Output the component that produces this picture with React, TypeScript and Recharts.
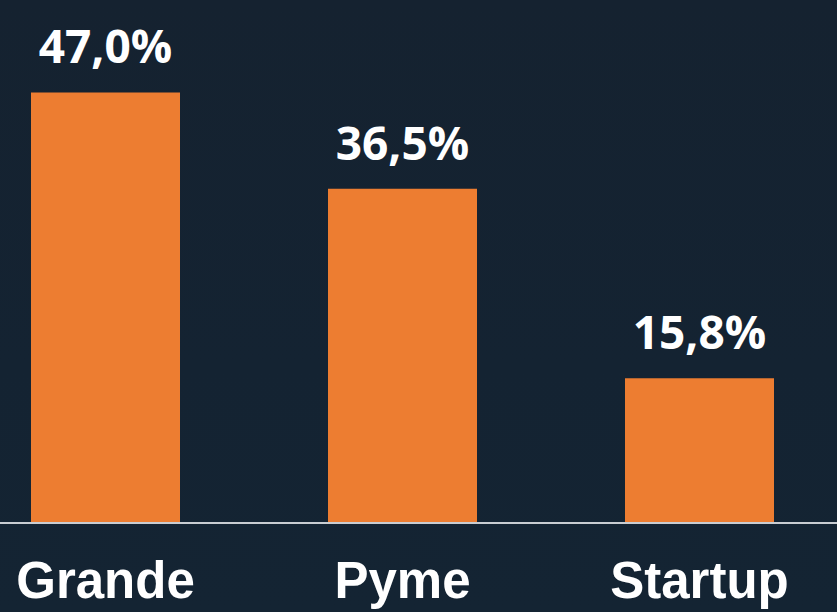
import React from "react";
import { BarChart, Bar, XAxis, YAxis, LabelList } from "recharts";

const categories = ["Grande", "Pyme", "Startup"];
const shares = [47.0, 36.5, 15.8];

const data = categories.map((name, i) => ({ name, value: shares[i] }));

const fmt = (v: number) => v.toFixed(1).replace(".", ",") + "%";

const CategoryTick = (props: any) => {
  const { x, y, payload } = props;
  return (
    <text
      x={x}
      y={y}
      dy={67}
      textAnchor="middle"
      fill="#ffffff"
      fontFamily="'Liberation Sans', Arial, sans-serif"
      fontWeight="bold"
      fontSize={51}
    >
      {payload.value}
    </text>
  );
};

export default function App() {
  return (
    <div
      style={{
        position: "absolute",
        left: 0,
        top: 0,
        width: 837,
        height: 612,
        overflow: "hidden",
        background: "linear-gradient(180deg, #152230 0%, #142332 60%, #142433 100%)",
      }}
    >
      <div style={{ marginLeft: -43 }}>
        <BarChart
          width={891}
          height={612}
          data={data}
          margin={{ top: 10, right: 0, bottom: 0, left: 0 }}
        >
          <XAxis
            dataKey="name"
            height={89}
            tickLine={false}
            axisLine={{ stroke: "#c9cdd2", strokeWidth: 2 }}
            tick={<CategoryTick />}
            interval={0}
          />
          <YAxis hide domain={[0, 56]} />
          <Bar dataKey="value" fill="#ED7D31" barSize={149} isAnimationActive={false}>
            <LabelList
              dataKey="value"
              position="top"
              offset={29}
              formatter={(v: any) => fmt(Number(v))}
              fill="#ffffff"
              fontFamily="'Open Sans', sans-serif"
              fontWeight="bold"
              fontSize={46}
            />
          </Bar>
        </BarChart>
      </div>
    </div>
  );
}
